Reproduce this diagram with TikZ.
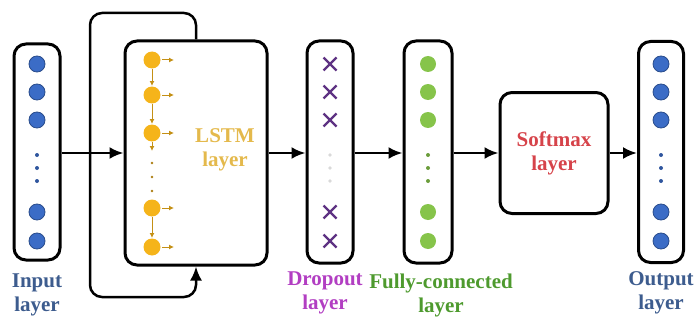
\documentclass[tikz,border=0pt]{standalone}
\usepackage{fontspec}
\setmainfont{Liberation Serif}
\usetikzlibrary{arrows.meta}
\definecolor{inblue}{HTML}{3B6CC6}
\definecolor{txtblue}{HTML}{3D5C8E}
\definecolor{lstmgold}{HTML}{F5B41A}
\definecolor{lstmtxt}{HTML}{E4B94C}
\definecolor{fcgreen}{HTML}{86C44A}
\definecolor{fctxt}{HTML}{4E9A2E}
\definecolor{droppurple}{HTML}{5E3283}
\definecolor{droptxt}{HTML}{B23EC2}
\definecolor{softred}{HTML}{D6434A}

\begin{document}
\begin{tikzpicture}[x=1pt,y=-1pt,
    box/.style={draw,line width=3pt,rounded corners=12pt,inner sep=0pt},
    arr/.style={line width=2.5pt,-{Latex[length=14pt,width=12pt]}},
    lbl/.style={font=\fontsize{21}{24}\selectfont\bfseries,align=center},
    neuron/.style={line width=0.8pt}]
\useasboundingbox (0,0) rectangle (696,321);

% layers
\node[box,minimum width=46pt,minimum height=216pt] (inp) at (37,152) {};
\node[box,minimum width=142pt,minimum height=224pt] (lstm) at (196,153) {};
\node[box,minimum width=46pt,minimum height=222pt] (drop) at (330,152) {};
\node[box,minimum width=48pt,minimum height=222pt] (fc) at (428,152) {};
\node[box,minimum width=108pt,minimum height=121pt] (soft) at (554,153) {};
\node[box,minimum width=45pt,minimum height=221pt] (out) at (661,152) {};

% neurons
\foreach \y in {64,92,120,212,241} {
  \filldraw[neuron,fill=inblue,draw=inblue!70!black] (37,\y) circle (8pt);
  \filldraw[neuron,fill=inblue,draw=inblue!70!black] (661,\y) circle (8pt);
  \fill[fcgreen] (428,\y) circle (8pt);
  \draw[droppurple,line width=2.2pt] (330,\y) +(-6.5,-6.5) -- +(6.5,6.5) +(-6.5,6.5) -- +(6.5,-6.5);
}
\foreach \y in {155,168,181} {
  \fill[inblue!80!black] (37,\y) circle (2pt);
  \fill[inblue!80!black] (661,\y) circle (2pt);
  \fill[fcgreen!80!black] (428,\y) circle (2pt);
  \fill[black!15] (330,\y) circle (1.8pt);
}
\foreach \y in {60,95,133,208,247} {
  \fill[lstmgold] (152,\y) circle (8.5pt);
  \draw[lstmgold!80!black,line width=1pt,-{Latex[length=5pt,width=5pt]}] (162,\y) -- (174,\y);
}
\foreach \a/\b in {60/95,95/133,208/247}
  \draw[lstmgold!80!black,line width=1pt,-{Latex[length=5pt,width=5pt]}] (152,\a+9) -- (152,\b-9);
\draw[lstmgold!80!black,line width=1pt,-{Latex[length=5pt,width=5pt]}] (152,142) -- (152,151);
\foreach \y in {163,177,191} \fill[lstmgold!70!black] (152,\y) circle (1.4pt);

% texts
\node[lbl,text=lstmtxt] (lstmtext) at (225,150) {LSTM\\layer};
\node[lbl,text=softred] (softtext) at (554,153) {Softmax\\layer};
\node[lbl,text=txtblue] (inplbl) at (37,295) {Input\\layer};
\node[lbl,text=droptxt] (droplbl) at (325,293) {Dropout\\layer};
\node[lbl,text=fctxt] (fclbl) at (441,295) {Fully-connected\\layer};
\node[lbl,text=txtblue] (outlbl) at (661,293) {Output\\layer};

% connections
\coordinate (loopTL) at (90,13);
\coordinate (loopB) at (196,297);
\draw[arr] (inp.east |- 0,153) -- (lstm.west);
\draw[arr,rounded corners=12pt] (lstm.north) |- (loopTL) |- (loopB) -- (lstm.south);
\draw[arr] (lstm.east) -- (lstm.east -| drop.west);
\draw[arr] (drop.east |- 0,153) -- (fc.west |- 0,153);
\draw[arr] (fc.east |- 0,153) -- (soft.west);
\draw[arr] (soft.east) -- (soft.east -| out.west);
\end{tikzpicture}
\end{document}
